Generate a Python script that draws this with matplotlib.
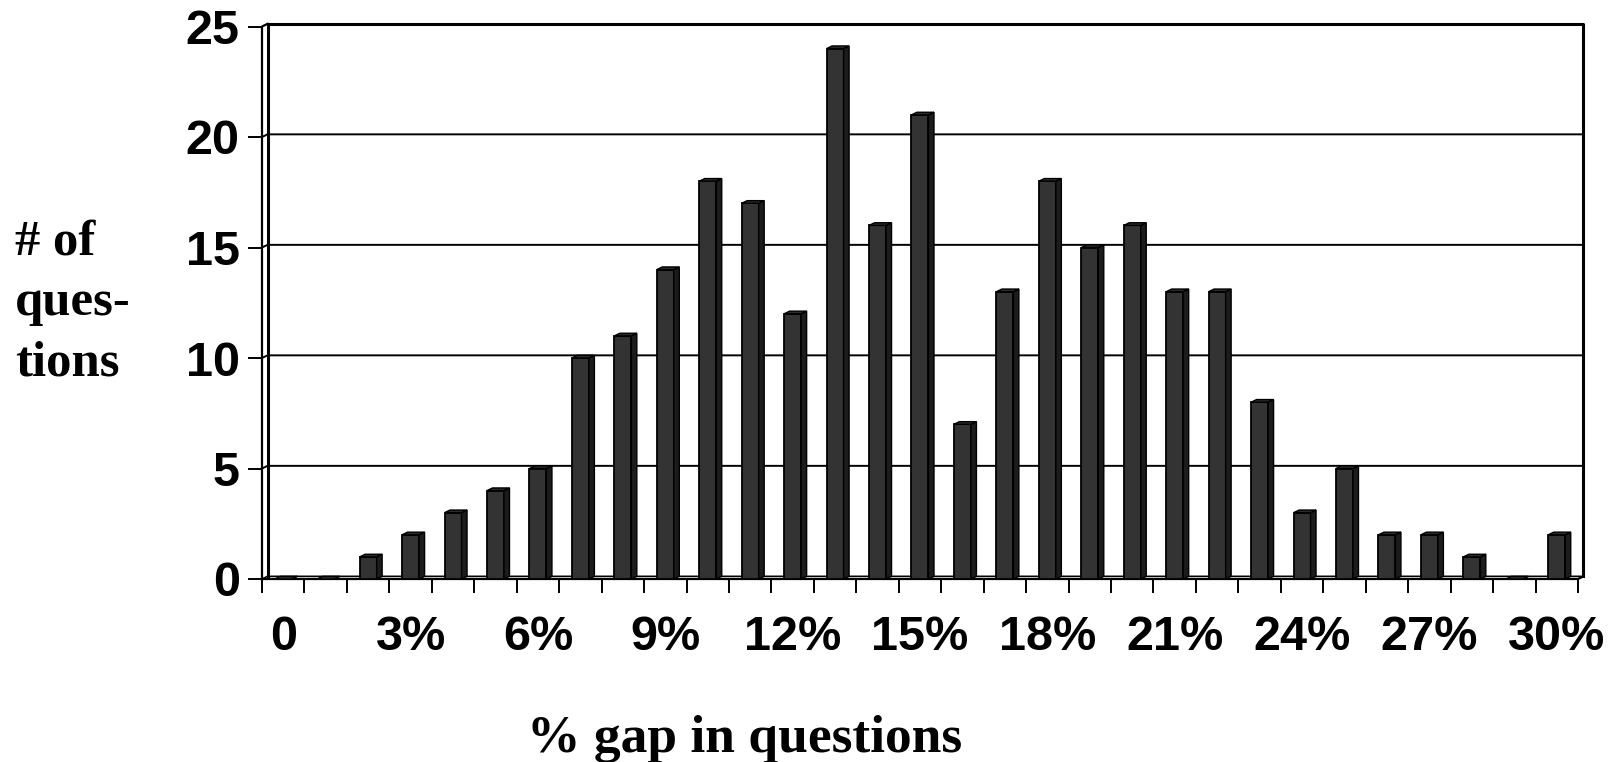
import numpy as np
import matplotlib.pyplot as plt
from matplotlib.patches import Polygon

# number of questions per percentage-gap bucket (0% .. 30%)
gaps = np.arange(0, 31)
counts = [0, 0, 1, 2, 3, 4, 5, 10, 11, 14, 18, 17, 12, 24, 16, 21, 7,
          13, 18, 15, 16, 13, 13, 8, 3, 5, 2, 2, 1, 0, 2]
label_gaps = [0, 3, 6, 9, 12, 15, 18, 21, 24, 27, 30]
label_text = ["0"] + [f"{g}%" for g in label_gaps[1:]]
y_ticks = [0, 5, 10, 15, 20, 25]

SANS = "Liberation Sans"
SERIF = "Liberation Serif"

W, H = 1619, 762
px_cat = 42.45    # pixels per category
px_val = 22.1     # pixels per count
dx, dy = 0.13, 0.12   # depth offset of the pseudo-3D back plane
bw = 0.40

fig = plt.figure(figsize=(W / 100, H / 100), dpi=100)
left, bottom, top, right = 262, 579, 18, 1592
ax = fig.add_axes([left / W, (H - bottom) / H, (right - left) / W, (bottom - top) / H])
ax.set_xlim(-0.5, -0.5 + (right - left) / px_cat)
ax.set_ylim(0, (bottom - top) / px_val)
for s in ax.spines.values():
    s.set_visible(False)

x0, x1 = -0.5, len(gaps) - 0.5
ymax = y_ticks[-1]
lw = 1.6

# back wall, gridlines, floor and side wall
for v in y_ticks[1:-1]:
    ax.plot([x0, x0 + dx, x1 + dx], [v, v + dy, v + dy], color="black", lw=1.4, clip_on=False)
ax.plot([x0 + dx, x0 + dx, x1 + dx, x1 + dx], [dy, ymax + dy, ymax + dy, dy],
        color="black", lw=2.2, clip_on=False)
ax.plot([x0, x0, x0 + dx], [0, ymax, ymax + dy], color="black", lw=lw, clip_on=False)
ax.plot([x0, x1, x1 + dx], [0, 0, dy], color="black", lw=lw, clip_on=False)
ax.plot([x0, x0 + dx, x1 + dx], [0, dy, dy], color="black", lw=1.2, clip_on=False)

# bars: front faces through ax.bar, side and top faces follow the same values
ax.bar(gaps, counts, width=bw, color="#333333", edgecolor="black", linewidth=1.3, zorder=3)
for g, c in zip(gaps, counts):
    xl, xr = g - bw / 2, g + bw / 2
    side = [(xr, 0), (xr + dx, dy), (xr + dx, c + dy), (xr, c)]
    roof = [(xl, c), (xl + dx, c + dy), (xr + dx, c + dy), (xr, c)]
    ax.add_patch(Polygon(side, closed=True, fc="#1c1c1c", ec="black", lw=1.0, zorder=3))
    ax.add_patch(Polygon(roof, closed=True, fc="#2b2b2b", ec="black", lw=1.0, zorder=3))

# ticks
ax.set_yticks(y_ticks)
ax.set_yticklabels([str(v) for v in y_ticks], fontsize=35, fontweight="bold", family=SANS)
ax.tick_params(axis="y", direction="out", length=10, width=1.4, pad=6)
ax.set_xticks(np.arange(x0, x1 + 0.01, 1))
ax.set_xticklabels([])
ax.tick_params(axis="x", which="major", direction="out", length=10, width=1.4)
ax.set_xticks(label_gaps, minor=True)
ax.set_xticklabels(label_text, minor=True, fontsize=35, fontweight="bold", family=SANS)
ax.tick_params(axis="x", which="minor", length=0, pad=26)

fig.text(15 / W, 1 - 303 / H, "# of\nques-\ntions", fontsize=36.5, fontweight="bold",
         family=SERIF, ha="left", va="center", multialignment="left", linespacing=1.42)
fig.text(745 / W, 1 - 739 / H, "% gap in questions", fontsize=38.5, fontweight="bold",
         family=SERIF, ha="center", va="center")

fig.savefig("out.png", dpi=100)
